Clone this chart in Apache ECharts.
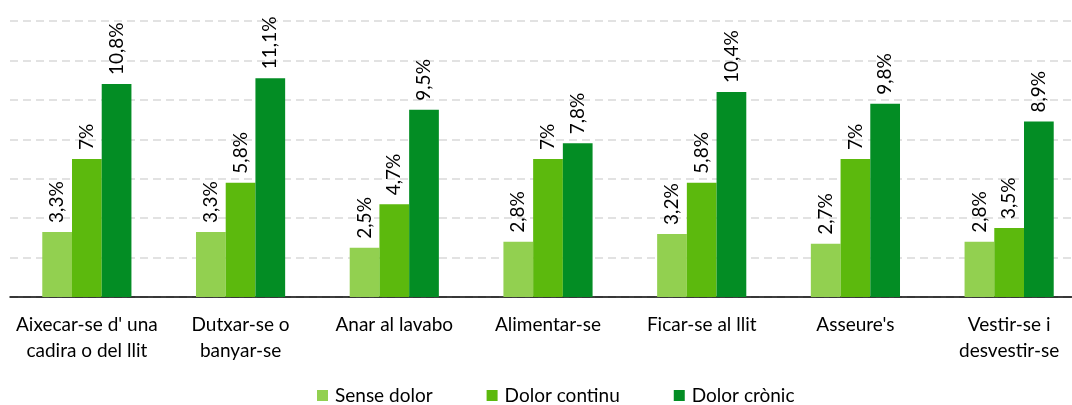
<!DOCTYPE html>
<html>
<head>
<meta charset="utf-8">
<script src="https://cdn.jsdelivr.net/npm/echarts@6/dist/echarts.min.js"></script>
<style>
  html, body { margin: 0; padding: 0; background: #fff; }
  #chart { width: 1072px; height: 405px; }
</style>
</head>
<body>
<div id="chart"></div>
<script>
const categories = [
  "Aixecar-se d' una\ncadira o del llit",
  "Dutxar-se o\nbanyar-se",
  "Anar al lavabo",
  "Alimentar-se",
  "Ficar-se al llit",
  "Asseure's",
  "Vestir-se i\ndesvestir-se"
];
const seriesNames = ["Sense dolor", "Dolor continu", "Dolor crònic"];
const senseDolor = [3.3, 3.3, 2.5, 2.8, 3.2, 2.7, 2.8];
const dolorContinu = [7, 5.8, 4.7, 7, 5.8, 7, 3.5];
const dolorCronic = [10.8, 11.1, 9.5, 7.8, 10.4, 9.8, 8.9];
const colors = ["#92d050", "#5cb90d", "#038d24"];

const FONT = "Lato";
const fmt = p => String(p.value).replace('.', ',') + '%';

const chart = echarts.init(document.getElementById('chart'), null, { renderer: 'canvas' });

const mk = (name, data, color) => ({
  name, type: 'bar', data,
  barGap: '0%', barCategoryGap: '42%',
  itemStyle: { color },
  label: {
    show: true, position: 'top', rotate: 90, align: 'left', verticalAlign: 'middle',
    distance: 9, formatter: fmt, color: '#000', fontFamily: FONT, fontSize: 19
  }
});

chart.setOption({
  animation: false,
  textStyle: { fontFamily: FONT },
  // plot area runs a little past the right edge of the canvas
  grid: {
    left: 10, width: 1076, top: 21, bottom: 108,
    containLabel: false, outerBoundsMode: 'none'
  },
  legend: {
    bottom: -5, left: 312, itemWidth: 11, itemHeight: 11, itemGap: 54,
    icon: 'rect',
    textStyle: { fontFamily: FONT, fontSize: 19, color: '#000', padding: [0, 0, 0, 2] },
    data: seriesNames
  },
  xAxis: {
    type: 'category', data: categories,
    axisLine: { lineStyle: { color: '#000', width: 1.5 } },
    axisTick: { show: false },
    axisLabel: { color: '#000', fontFamily: FONT, fontSize: 19, lineHeight: 26, margin: 15, interval: 0 }
  },
  yAxis: {
    type: 'value', min: 0, max: 14, interval: 2,
    axisLabel: { show: false }, axisLine: { show: false }, axisTick: { show: false },
    splitLine: { lineStyle: { color: '#d9d9d9', type: [8, 5], width: 1.5 } }
  },
  series: [
    mk(seriesNames[0], senseDolor, colors[0]),
    mk(seriesNames[1], dolorContinu, colors[1]),
    mk(seriesNames[2], dolorCronic, colors[2])
  ]
});
</script>
</body>
</html>
